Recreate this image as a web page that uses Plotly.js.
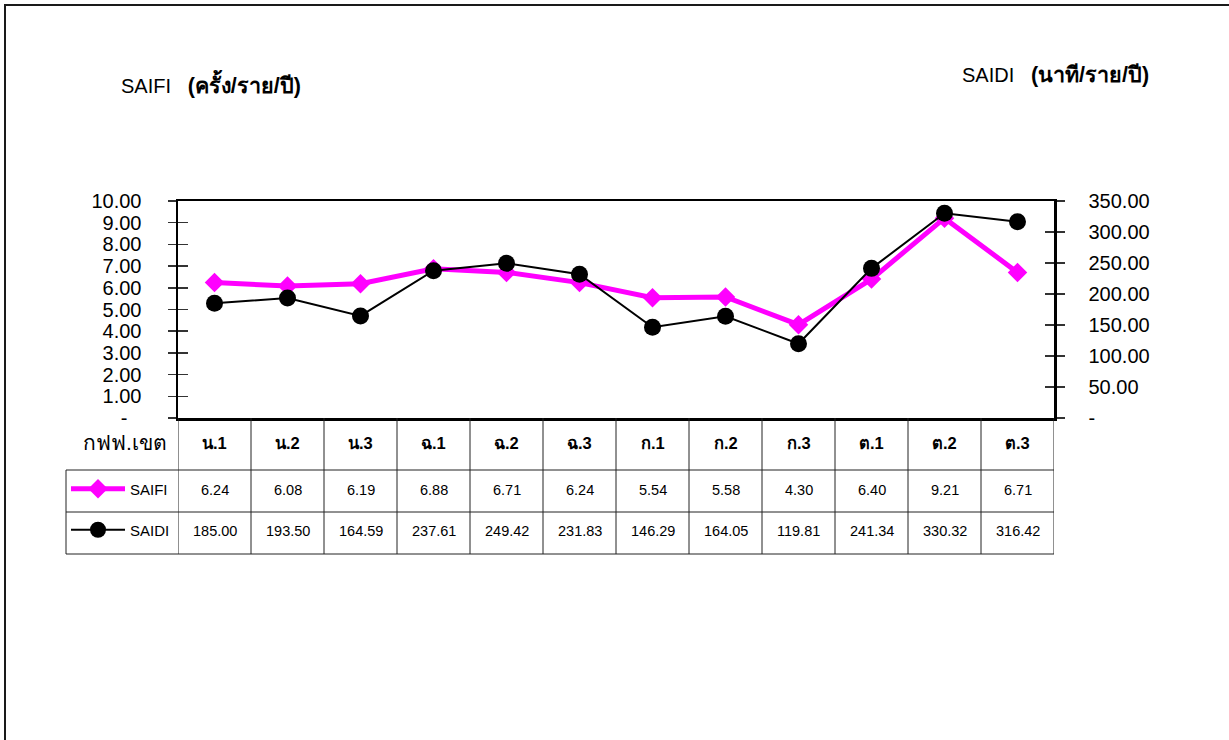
<!DOCTYPE html>
<html>
<head>
<meta charset="utf-8">
<script src="https://cdn.plot.ly/plotly-3.0.1.min.js"></script>
<style>html,body{margin:0;padding:0;background:#fff;}#chart{width:1229px;height:740px;}</style>
</head>
<body>
<div id="chart"></div>
<script>
// ---- data ----
const categories = ['น.1','น.2','น.3','ฉ.1','ฉ.2','ฉ.3','ก.1','ก.2','ก.3','ต.1','ต.2','ต.3'];
const saifi = [6.24, 6.08, 6.19, 6.88, 6.71, 6.24, 5.54, 5.58, 4.30, 6.40, 9.21, 6.71];
const saidi = [185.00, 193.50, 164.59, 237.61, 249.42, 231.83, 146.29, 164.05, 119.81, 241.34, 330.32, 316.42];
const leftTickVals = [0, 1, 2, 3, 4, 5, 6, 7, 8, 9, 10];
const leftTickText = ['-\u2002\u2009', '1.00', '2.00', '3.00', '4.00', '5.00', '6.00', '7.00', '8.00', '9.00', '10.00'];
const rightTickVals = [0, 50, 100, 150, 200, 250, 300, 350];
const rightTickText = ['-', '50.00', '100.00', '150.00', '200.00', '250.00', '300.00', '350.00'];
const leftTitle = 'SAIFI\u00a0\u00a0\u00a0<b><span style="font-size:21.5px">(ครั้ง/ราย/ปี)</span></b>';
const rightTitle = 'SAIDI\u00a0\u00a0\u00a0<b><span style="font-size:21.5px">(นาที/ราย/ปี)</span></b>';
const rowHeader = 'กฟฟ.เขต';

// ---- geometry helpers ----
const W = 1229, H = 740;
const px = x => x / W;
const py = y => 1 - y / H;
const FONT = 'Liberation Sans, Arial, sans-serif';

const xs = categories.map((c, i) => i);

const traces = [
  {x: xs, y: saifi, name: 'SAIFI', type: 'scatter', mode: 'lines+markers', xaxis: 'x', yaxis: 'y',
   line: {color: '#FF00FF', width: 5}, marker: {symbol: 'diamond', size: 15, color: '#FF00FF'},
   legend: 'legend', hoverinfo: 'skip'},
  {x: xs, y: saidi, name: 'SAIDI', type: 'scatter', mode: 'lines+markers', xaxis: 'x', yaxis: 'y2',
   line: {color: '#000000', width: 2}, marker: {symbol: 'circle', size: 17, color: '#000000'},
   legend: 'legend2', hoverinfo: 'skip'},
  {x: [], y: [], xaxis: 'x', yaxis: 'y3', showlegend: false, type: 'scatter'},
  {x: [], y: [], xaxis: 'x', yaxis: 'y4', showlegend: false, type: 'scatter'}
];

const shapes = [];
// outer frame
shapes.push({type: 'rect', xref: 'paper', yref: 'paper', x0: px(5), x1: 1.05, y0: py(5), y1: -0.05,
  line: {color: '#1a1a1a', width: 2}, fillcolor: 'rgba(0,0,0,0)'});
// table vertical lines at category boundaries
for (let i = 0; i <= categories.length; i++) {
  shapes.push({type: 'line', xref: 'x', yref: 'paper', x0: i - 0.5, x1: i - 0.5, y0: py(418), y1: py(554),
    line: {color: '#222', width: 1}});
}
// left column border
shapes.push({type: 'line', xref: 'paper', yref: 'paper', x0: px(66), x1: px(66), y0: py(470), y1: py(554),
  line: {color: '#222', width: 1}});
// horizontal lines
[470, 512, 554].forEach(y => {
  shapes.push({type: 'line', xref: 'paper', yref: 'paper', x0: px(66), x1: px(1054), y0: py(y), y1: py(y),
    line: {color: '#222', width: 1}});
});

const annotations = [];
annotations.push({xref: 'paper', yref: 'paper', x: px(119), y: py(84), xanchor: 'left', yanchor: 'middle',
  text: leftTitle, showarrow: false, font: {family: FONT, size: 20, color: '#000'}});
annotations.push({xref: 'paper', yref: 'paper', x: px(1151), y: py(75), xanchor: 'right', yanchor: 'middle',
  text: rightTitle, showarrow: false, font: {family: FONT, size: 20, color: '#000'}});
annotations.push({xref: 'paper', yref: 'paper', x: px(125), y: py(442), xanchor: 'center', yanchor: 'middle',
  text: rowHeader, showarrow: false, font: {family: FONT, size: 21, color: '#000'}});
categories.forEach((c, i) => {
  annotations.push({xref: 'x', yref: 'paper', x: i, y: py(443), xanchor: 'center', yanchor: 'middle',
    text: '<b>' + c + '</b>', showarrow: false, font: {family: FONT, size: 16.5, color: '#000'}});
  annotations.push({xref: 'x', yref: 'paper', x: i, y: py(490), xanchor: 'center', yanchor: 'middle',
    text: saifi[i].toFixed(2), showarrow: false, font: {family: FONT, size: 14.5, color: '#000'}});
  annotations.push({xref: 'x', yref: 'paper', x: i, y: py(531), xanchor: 'center', yanchor: 'middle',
    text: saidi[i].toFixed(2), showarrow: false, font: {family: FONT, size: 14.5, color: '#000'}});
});

const yDomain = [py(418), py(201)];
const layout = {
  width: W, height: H,
  margin: {l: 0, r: 0, t: 0, b: 0, pad: 0},
  paper_bgcolor: '#fff', plot_bgcolor: '#fff',
  font: {family: FONT, color: '#000'},
  showlegend: true,
  xaxis: {domain: [px(178), px(1054)], range: [-0.5, 11.5], showgrid: false, zeroline: false,
    showticklabels: false, ticks: '', showline: true, mirror: true, linecolor: '#000', linewidth: 2.5,
    fixedrange: true},
  yaxis: {domain: yDomain, range: [0, 10], tickvals: leftTickVals, ticktext: leftTickText,
    ticks: 'outside', ticklen: 8, tickwidth: 1.5, tickcolor: '#333', showgrid: false, zeroline: false,
    showline: true, linecolor: '#000', linewidth: 2.5, ticklabelstandoff: 22,
    tickfont: {family: FONT, size: 20, color: '#000'}, fixedrange: true},
  yaxis2: {overlaying: 'y', side: 'right', anchor: 'x', range: [0, 350], tickvals: rightTickVals,
    ticktext: rightTickText, ticks: 'outside', ticklen: 8, tickwidth: 1.5, tickcolor: '#333',
    showgrid: false, zeroline: false, showline: true, linecolor: '#000', linewidth: 2.5,
    ticklabelstandoff: 20, tickfont: {family: FONT, size: 20, color: '#000'}, fixedrange: true},
  yaxis3: {overlaying: 'y', side: 'left', anchor: 'x', range: [0, 10], tickvals: leftTickVals,
    ticks: 'inside', ticklen: 10, tickwidth: 1.5, tickcolor: '#333', showticklabels: false,
    showgrid: false, zeroline: false, showline: false, fixedrange: true},
  yaxis4: {overlaying: 'y', side: 'right', anchor: 'x', range: [0, 350], tickvals: rightTickVals,
    ticks: 'inside', ticklen: 9, tickwidth: 1.5, tickcolor: '#333', showticklabels: false,
    showgrid: false, zeroline: false, showline: false, fixedrange: true},
  legend: {x: px(66), y: py(489), xanchor: 'left', yanchor: 'middle', itemwidth: 54,
    bgcolor: 'rgba(0,0,0,0)', borderwidth: 0, font: {family: FONT, size: 15, color: '#000'}},
  legend2: {x: px(66), y: py(530), xanchor: 'left', yanchor: 'middle', itemwidth: 54,
    bgcolor: 'rgba(0,0,0,0)', borderwidth: 0, font: {family: FONT, size: 15, color: '#000'}},
  shapes: shapes,
  annotations: annotations
};

Plotly.newPlot('chart', traces, layout, {displayModeBar: false, staticPlot: true});
</script>
</body>
</html>
